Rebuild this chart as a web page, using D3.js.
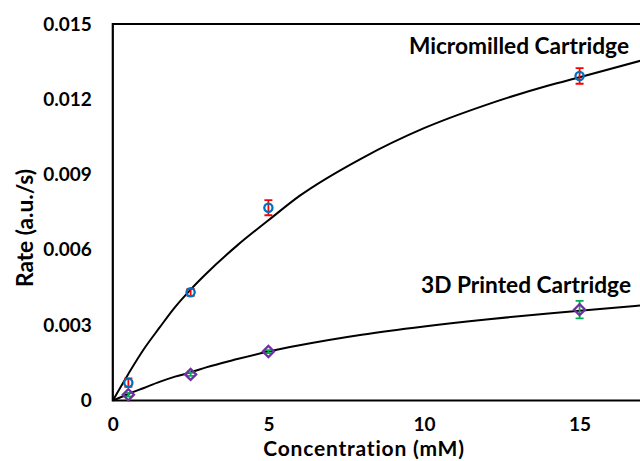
<!DOCTYPE html>
<html>
<head>
<meta charset="utf-8">
<script src="https://cdn.jsdelivr.net/npm/d3@7"></script>
<style>
  html, body { margin: 0; padding: 0; background: #fff; }
  svg text { font-family: Lato, "Open Sans", sans-serif; font-weight: bold; fill: #000; }
</style>
</head>
<body>
<svg id="chart" width="640" height="461"></svg>
<script>
"use strict";

// measured points (concentration in mM, rate in a.u./s)
const concentrations = [0.5, 2.5, 5, 15];
const microRates = [0.00071, 0.00431, 0.00768, 0.01293];
const microErrors = [0.00017, 0.00014, 0.0003, 0.00031];
const printedRates = [0.00023, 0.00104, 0.00195, 0.00362];
const printedErrors = [0.00007, 0.00006, 0.00006, 0.00035];

// fitted curves
const fitConc = [0, 0.5, 1, 1.5, 2, 2.5, 3, 4, 5, 6, 8, 10, 12, 14, 15, 17];
const microFit = [0, 0.00106, 0.00205, 0.0029, 0.00372, 0.00442, 0.00505, 0.00618, 0.00718, 0.00815, 0.00965, 0.01085, 0.01178, 0.01255, 0.01288, 0.01355];
const printedFit = [0, 0.00026, 0.0005, 0.00074, 0.00095, 0.00112, 0.00132, 0.00165, 0.00195, 0.0022, 0.00262, 0.00295, 0.00323, 0.00347, 0.00358, 0.00379];

const xTicks = [0, 5, 10, 15];
const yTicks = [0, 0.003, 0.006, 0.009, 0.012, 0.015];

const svg = d3.select("#chart");

const plotLeft = 112.8, plotTop = 24, plotBottom = 400.5;

const x = d3.scaleLinear().domain([0, 17]).range([plotLeft, plotLeft + 17 * 31.12]);
const y = d3.scaleLinear().domain([0, 0.015]).range([plotBottom, plotTop]);

// axes (labels only, no tick marks)
const yAxis = svg.append("g")
    .attr("transform", "translate(" + plotLeft + ",0)")
    .call(d3.axisLeft(y).tickValues(yTicks).tickSize(0).tickPadding(21)
        .tickFormat(d => d === 0 ? "0" : d3.format(".3f")(d)));
yAxis.select(".domain").remove();
yAxis.attr("font-family", null).attr("font-size", null);
yAxis.selectAll("text").style("font-size", "19px");

const xAxis = svg.append("g")
    .attr("transform", "translate(0," + plotBottom + ")")
    .call(d3.axisBottom(x).tickValues(xTicks).tickSize(0).tickPadding(17));
xAxis.select(".domain").remove();
xAxis.attr("font-family", null).attr("font-size", null);
xAxis.selectAll("text").style("font-size", "19px");

// frame (right edge is cut off in the picture)
svg.append("path")
    .attr("d", "M660," + plotTop + "H" + plotLeft + "V" + plotBottom + "H660")
    .attr("fill", "none")
    .attr("stroke", "#000")
    .attr("stroke-width", 2.2);

// fitted curves
const line = d3.line().curve(d3.curveMonotoneX);
svg.append("path")
    .attr("d", line(fitConc.map((c, i) => [x(c), y(microFit[i])])))
    .attr("fill", "none").attr("stroke", "#000").attr("stroke-width", 2);
svg.append("path")
    .attr("d", line(fitConc.map((c, i) => [x(c), y(printedFit[i])])))
    .attr("fill", "none").attr("stroke", "#000").attr("stroke-width", 2);

// error bars
function errorBars(vals, errs, color) {
    const g = svg.append("g").attr("stroke", color).attr("stroke-width", 1.8).attr("fill", "none");
    concentrations.forEach((c, i) => {
        const cx = x(c), y0 = y(vals[i] - errs[i]), y1 = y(vals[i] + errs[i]);
        g.append("path").attr("d",
            "M" + cx + "," + y0 + "V" + y1 +
            "M" + (cx - 4) + "," + y0 + "H" + (cx + 4) +
            "M" + (cx - 4) + "," + y1 + "H" + (cx + 4));
    });
}
errorBars(microRates, microErrors, "#ff0000");
errorBars(printedRates, printedErrors, "#00b050");

// markers
svg.append("g").selectAll("circle")
    .data(concentrations)
    .join("circle")
    .attr("cx", d => x(d))
    .attr("cy", (d, i) => y(microRates[i]))
    .attr("r", 4.1)
    .attr("fill", "none")
    .attr("stroke", "#0070c0")
    .attr("stroke-width", 2.3);

svg.append("g").selectAll("path")
    .data(concentrations)
    .join("path")
    .attr("d", d3.symbol().type(d3.symbolSquare).size(62))
    .attr("transform", (d, i) => "translate(" + x(d) + "," + y(printedRates[i]) + ") rotate(45)")
    .attr("fill", "none")
    .attr("stroke", "#7030a0")
    .attr("stroke-width", 2.3);

// annotations
svg.append("text").attr("x", 629).attr("y", 54).attr("text-anchor", "end")
    .style("font-size", "22.7px").text("Micromilled Cartridge");
svg.append("text").attr("x", 631).attr("y", 293).attr("text-anchor", "end")
    .style("font-size", "22.7px").text("3D Printed Cartridge");

// axis titles
svg.append("text").attr("x", 364).attr("y", 456.2).attr("text-anchor", "middle")
    .style("font-size", "21px").style("letter-spacing", "0.8px").text("Concentration (mM)");
svg.append("text")
    .attr("transform", "translate(33,228) rotate(-90)")
    .attr("text-anchor", "middle")
    .style("font-size", "22.7px").text("Rate (a.u./s)");
</script>
</body>
</html>
